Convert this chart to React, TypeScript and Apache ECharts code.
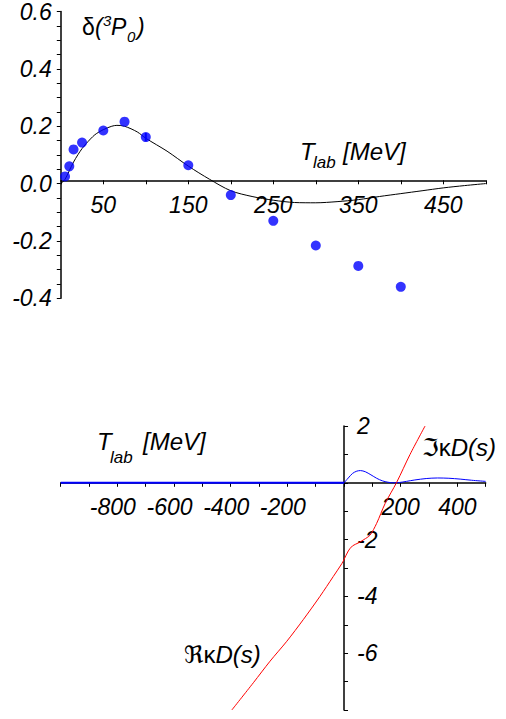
import React, { useEffect, useRef } from "react";
import * as echarts from "echarts";

// Top panel: phase shift data points (T_lab [MeV], delta)
const phaseT = [5, 10, 15, 25, 50, 75, 100, 150, 200, 250, 300, 350, 400];
const phaseDelta = [0.025, 0.06, 0.119, 0.143, 0.185, 0.216, 0.162, 0.064, -0.04, -0.13, -0.216, -0.287, -0.36];
// error bar at 100 MeV
const errT = [100, 100];
const errDelta = [0.148, 0.176];
// fitted curve
const fitT = [0, 5, 10, 15, 20, 25, 30, 40, 50, 60, 66, 75, 90, 100, 125, 150, 175, 200, 225, 250, 275, 300, 325, 350, 375, 400, 425, 450, 475, 500];
const fitDelta = [0, 0.015, 0.045, 0.075, 0.1, 0.122, 0.14, 0.17, 0.188, 0.2, 0.203, 0.2, 0.18, 0.158, 0.113, 0.061, 0.015, -0.025, -0.045, -0.058, -0.066, -0.067, -0.063, -0.056, -0.045, -0.035, -0.025, -0.015, -0.007, 0];
const topXLabels = [50, 150, 250, 350, 450];
const topYLabels = [-0.4, -0.2, 0, 0.2, 0.4, 0.6];

// Bottom panel
const negT = [-1000, 0];
const negVal = [0, 0];
const imT = [0, 15, 30, 45, 58, 75, 95, 115, 135, 155, 175, 195, 220, 250, 290, 330, 370, 410, 450, 500];
const imVal = [0, 0.17, 0.33, 0.41, 0.43, 0.39, 0.28, 0.16, 0.07, 0.02, 0.0, 0.01, 0.05, 0.1, 0.15, 0.17, 0.16, 0.13, 0.09, 0.05];
const reT = [-396, -320, -261, -202, -144, -85, -38, -8, 0, 15, 30, 50, 70, 92, 115, 145, 186, 233, 286];
const reVal = [-8, -7.04, -6.28, -5.58, -4.82, -4.0, -3.3, -2.85, -2.7, -2.4, -2.22, -2.12, -2.0, -1.84, -1.43, -0.73, 0.02, 1.0, 2.0];
const bottomXLabels = [-800, -600, -400, -200, 200, 400];
const bottomYLabels = [-6, -4, -2, 2];

const FONT = "'Liberation Sans', Arial, 'DejaVu Sans', sans-serif";
const zip = (a: number[], b: number[]) => a.map((v, i) => [v, b[i]]);

export default function App() {
  const ref = useRef<HTMLDivElement>(null);
  useEffect(() => {
    if (!ref.current) return;
    const chart = echarts.init(ref.current, undefined, { renderer: "svg" });
    const axisLine = { show: true, onZero: false, lineStyle: { color: "#000", width: 1.5 } };
    const tick = (inside: boolean) => ({ show: true, inside, length: 4, lineStyle: { color: "#000", width: 1 } });
    const lbl = { color: "#000", fontSize: 23, fontStyle: "italic", fontFamily: FONT };
    const t = (text: string, x: number, y: number, size: number, italic = true) => ({
      type: "text",
      x,
      y,
      style: { text, fontSize: size, fontStyle: italic ? "italic" : "normal", fontFamily: FONT, fill: "#000", align: "left", verticalAlign: "middle" },
    });
    const g1 = { left: 60.8, top: 3.3, width: 425, height: 295 };
    const g2 = { left: 60.7, top: 426, width: 425, height: 284 };
    const richLabel = (x: number, y: number) => ({
      type: "text", x, y,
      style: {
        text: "", align: "left", verticalAlign: "middle", fill: "#000",
        rich: {
          u: { fontSize: 24, fontFamily: FONT, fill: "#000" },
          i: { fontSize: 24, fontFamily: FONT, fontStyle: "italic", fill: "#000" },
        },
      },
    });
    const imLabel = richLabel(422, 447);
    imLabel.style.text = "{u|ℑκ}{i|D(s)}";
    const reLabel = richLabel(184, 654);
    reLabel.style.text = "{u|ℜκ}{i|D(s)}";
    chart.setOption({
      animation: false,
      grid: [g1, g2],
      xAxis: [
        {
          gridIndex: 0, type: "value", min: 0, max: 500, interval: 50, position: "bottom",
          offset: -g1.height * 0.4,
          axisLine, axisTick: tick(false), splitLine: { show: false },
          axisLabel: {
            ...lbl, margin: 13,
            formatter: (v: number) => (topXLabels.includes(Math.round(v)) ? String(Math.round(v)) : ""),
          },
        },
        {
          gridIndex: 1, type: "value", min: -1000, max: 500, interval: 100, position: "bottom",
          offset: -g2.height * 0.8,
          axisLine, axisTick: tick(false), splitLine: { show: false },
          axisLabel: {
            ...lbl, margin: 13,
            formatter: (v: number) => {
              const r = Math.round(v);
              if (!bottomXLabels.includes(r)) return "";
              return r < 0 ? `{n|${r}}` : `{p|${r}}`;
            },
            rich: {
              n: { ...lbl, padding: [0, 9, 0, 0] },
              p: { ...lbl },
            },
          },
        },
      ],
      yAxis: [
        {
          gridIndex: 0, type: "value", min: -0.4, max: 0.6, interval: 0.05, position: "left",
          axisLine, axisTick: tick(false), splitLine: { show: false },
          axisLabel: {
            ...lbl, margin: 9, padding: [6, 0, 0, 0],
            formatter: (v: number) => {
              const r = Math.round(v * 100) / 100;
              return topYLabels.some((l) => Math.abs(l - r) < 1e-9) ? r.toFixed(1) : "";
            },
          },
        },
        {
          gridIndex: 1, type: "value", min: -8, max: 2, interval: 1, position: "left",
          offset: -g2.width * (1000 / 1500),
          axisLine, axisTick: tick(true), splitLine: { show: false },
          axisLabel: {
            ...lbl, inside: true, margin: 13,
            formatter: (v: number) => (bottomYLabels.includes(Math.round(v)) ? String(Math.round(v)) : ""),
          },
        },
      ],
      series: [
        {
          type: "line", xAxisIndex: 0, yAxisIndex: 0, data: zip(fitT, fitDelta), smooth: 0.3,
          showSymbol: false, symbol: "none", lineStyle: { color: "#000", width: 1 }, z: 2,
        },
        {
          type: "line", xAxisIndex: 0, yAxisIndex: 0, data: zip(errT, errDelta),
          symbol: "none", lineStyle: { color: "#0000ff", width: 2 }, z: 3,
        },
        {
          type: "scatter", xAxisIndex: 0, yAxisIndex: 0, data: zip(phaseT, phaseDelta),
          symbol: "circle", symbolSize: 10, itemStyle: { color: "#0000ff" }, z: 4,
        },
        {
          type: "line", xAxisIndex: 1, yAxisIndex: 1, data: zip(negT, negVal),
          symbol: "none", lineStyle: { color: "#0000ff", width: 2 }, z: 3,
        },
        {
          type: "line", xAxisIndex: 1, yAxisIndex: 1, data: zip(imT, imVal), smooth: 0.3,
          symbol: "none", lineStyle: { color: "#0000ff", width: 1 }, z: 3,
        },
        {
          type: "line", xAxisIndex: 1, yAxisIndex: 1, data: zip(reT, reVal), smooth: 0.3,
          symbol: "none", lineStyle: { color: "#ff0000", width: 1 }, z: 3,
        },
      ],
      graphic: [
        t("δ", 82, 27, 23, false),
        t("(", 95, 27, 23),
        t("3", 103, 20, 15),
        t("P", 111, 27, 23),
        t("0", 127, 36, 15),
        t(")", 137, 27, 23),
        t("T", 300, 151, 24),
        t("lab", 313, 162, 17),
        t("[MeV]", 343, 151, 24),
        t("T", 97, 441, 24),
        t("lab", 110, 457, 17),
        t("[MeV]", 143, 441, 24),
        imLabel,
        reLabel,
      ],
    });
    return () => chart.dispose();
  }, []);
  return <div ref={ref} style={{ position: "absolute", left: 0, top: 0, width: 506, height: 719 }} />;
}
